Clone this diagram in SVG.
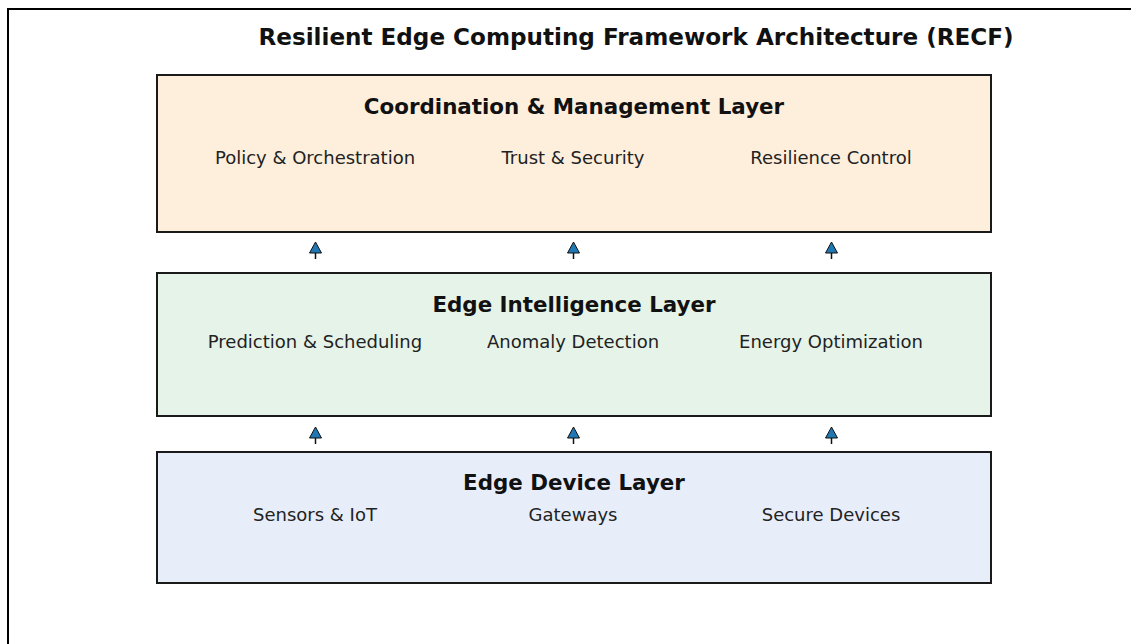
<svg xmlns="http://www.w3.org/2000/svg" width="1131" height="644" viewBox="0 0 1131 644">
<style>
.layer{stroke:#1a1a1a;stroke-width:2}
.title{font-family:"DejaVu Sans",sans-serif;font-weight:bold;fill:#111;text-anchor:middle}
.lt{font-family:"DejaVu Sans",sans-serif;font-weight:bold;font-size:21.4px;fill:#111;text-anchor:middle}
.lab{font-family:"DejaVu Sans",sans-serif;font-size:18px;fill:#222;text-anchor:middle}
.stem{stroke:#111;stroke-width:1.5}
.head{fill:#1f77b4;stroke:#111;stroke-width:1}
</style>
<rect x="0" y="0" width="1131" height="644" fill="#fff"/>
<rect x="8" y="9" width="1140" height="660" fill="none" stroke="#000" stroke-width="2"/>
<text class="title" x="636" y="45" font-size="23.1px">Resilient Edge Computing Framework Architecture (RECF)</text>
<g id="coordination-layer">
<rect class="layer" x="157" y="75" width="834" height="157" fill="#fdefdc"/>
<text class="lt" x="574" y="114">Coordination &amp; Management Layer</text>
<text class="lab" x="315" y="164">Policy &amp; Orchestration</text>
<text class="lab" x="573" y="164">Trust &amp; Security</text>
<text class="lab" x="831" y="164">Resilience Control</text>
</g>
<g id="intelligence-layer">
<rect class="layer" x="157" y="273" width="834" height="143" fill="#e6f3e8"/>
<text class="lt" x="574" y="312">Edge Intelligence Layer</text>
<text class="lab" x="315" y="348">Prediction &amp; Scheduling</text>
<text class="lab" x="573" y="348">Anomaly Detection</text>
<text class="lab" x="831" y="348">Energy Optimization</text>
</g>
<g id="device-layer">
<rect class="layer" x="157" y="452" width="834" height="131" fill="#e7eef9"/>
<text class="lt" x="574" y="490">Edge Device Layer</text>
<text class="lab" x="315" y="521">Sensors &amp; IoT</text>
<text class="lab" x="573" y="521">Gateways</text>
<text class="lab" x="831" y="521">Secure Devices</text>
</g>
<g id="connectors">
<line class="stem" x1="315.5" y1="259" x2="315.5" y2="251"/>
<polygon class="head" points="315.5,242 309.5,253 321.5,253"/>
<line class="stem" x1="573.5" y1="259" x2="573.5" y2="251"/>
<polygon class="head" points="573.5,242 567.5,253 579.5,253"/>
<line class="stem" x1="831.5" y1="259" x2="831.5" y2="251"/>
<polygon class="head" points="831.5,242 825.5,253 837.5,253"/>
<line class="stem" x1="315.5" y1="444" x2="315.5" y2="436"/>
<polygon class="head" points="315.5,427 309.5,438 321.5,438"/>
<line class="stem" x1="573.5" y1="444" x2="573.5" y2="436"/>
<polygon class="head" points="573.5,427 567.5,438 579.5,438"/>
<line class="stem" x1="831.5" y1="444" x2="831.5" y2="436"/>
<polygon class="head" points="831.5,427 825.5,438 837.5,438"/>
</g>
</svg>
